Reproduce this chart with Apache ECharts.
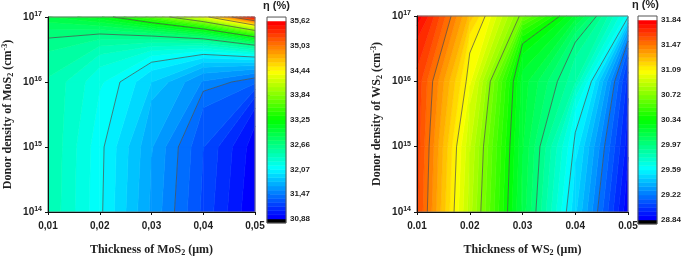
<!DOCTYPE html>
<html><head><meta charset="utf-8">
<script src="https://cdn.jsdelivr.net/npm/echarts@6/dist/echarts.min.js"></script>
<style>html,body{margin:0;padding:0;background:#fff}#c{width:685px;height:262px}</style>
</head><body><div id="c"></div>
<script>
// ---- data ----
const thickness = [0.01, 0.02, 0.03, 0.04, 0.05];          // µm
const donorDensity = [1e14, 1e15, 1e16, 1e17];             // cm^-3
const xTickLabelsMoS2 = ['0,01', '0,02', '0,03', '0,04', '0,05'];
const xTickLabelsWS2 = ['0.01', '0.02', '0.03', '0.04', '0.05'];
const yTickExponents = ['14', '15', '16', '17'];
// efficiency (%), rows = donor density, cols = thickness
const etaMoS2 = [
  [32.45, 32.09, 31.65, 31.25, 30.88],
  [32.46, 32.10, 31.68, 31.28, 30.92],
  [32.45, 32.19, 31.87, 31.56, 31.40],
  [32.95, 33.13, 33.60, 34.30, 35.62]
];
const etaWS2 = [
  [31.61, 30.87, 30.13, 29.48, 28.85],
  [31.63, 30.91, 30.16, 29.57, 28.93],
  [31.64, 31.05, 30.19, 29.85, 29.00],
  [31.84, 31.26, 30.68, 30.20, 29.62]
];
const cbarTicksMoS2 = ['30,88', '31,47', '32,07', '32,66', '33,25', '33,84', '34,44', '35,03', '35,62'];
const cbarTicksWS2 = ['28.84', '29.22', '29.59', '29.97', '30.34', '30.72', '31.09', '31.47', '31.84'];
const cbarRangeMoS2 = [30.88, 35.62];
const cbarRangeWS2 = [28.84, 31.84];

// ---- styling helpers ----
const MAJOR = 8, PER = 6, NB = MAJOR * PER;
const anchors = [[0,0,255],[0,255,255],[0,255,0],[255,255,0],[255,0,0]];
function rainbow(t) {
  const s = Math.max(0, Math.min(1, t)) * 4;
  const a = Math.min(3, Math.floor(s)), f = s - a;
  const c0 = anchors[a], c1 = anchors[a + 1];
  return 'rgb(' + [0,1,2].map(q => Math.round(c0[q] + (c1[q] - c0[q]) * f)).join(',') + ')';
}
// marching-squares style: points are found on the cell perimeter, joined by straight chords
function contourRender(Z, range, mode) {
  const step = (range[1] - range[0]) / NB;
  return function (params, api) {
    const j = api.value(2), i = api.value(3);
    const x0 = thickness[j], x1 = thickness[j + 1], y0 = donorDensity[i], y1 = donorDensity[i + 1];
    const toPx = p => api.coord([x0 + p[0] * (x1 - x0), y0 + p[1] * (y1 - y0)]);
    const ring = [[0, 0, Z[i][j]], [1, 0, Z[i][j + 1]], [1, 1, Z[i + 1][j + 1]], [0, 1, Z[i + 1][j]]];
    const edgePt = (A, B, L) => {
      const t = (L - A[2]) / (B[2] - A[2]);
      return [A[0] + t * (B[0] - A[0]), A[1] + t * (B[1] - A[1]), t];
    };
    const children = [];
    const zs = ring.map(p => p[2]);
    const zmin = Math.min(...zs), zmax = Math.max(...zs);
    if (mode === 'fill') {
      for (let k = 0; k < NB; k++) {
        const lo = k === 0 ? -Infinity : range[0] + k * step;
        const hi = k === NB - 1 ? Infinity : range[0] + (k + 1) * step;
        if (zmax < lo || zmin > hi) continue;
        const pts = [];
        for (let e = 0; e < 4; e++) {
          const A = ring[e], B = ring[(e + 1) % 4];
          if (A[2] >= lo && A[2] <= hi) pts.push(A);
          const cr = [];
          [lo, hi].forEach(L => {
            if (isFinite(L) && (A[2] - L) * (B[2] - L) < 0) cr.push(edgePt(A, B, L));
          });
          cr.sort((p, q) => p[2] - q[2]);
          cr.forEach(p => pts.push(p));
        }
        if (pts.length < 3) continue;
        const col = rainbow(k / (NB - 1));
        children.push({ type: 'polygon', shape: { points: pts.map(toPx) },
          style: { fill: col, stroke: col, lineWidth: 0.6 } });
      }
    } else {
      for (let m = 1; m < MAJOR; m++) {
        const L = range[0] + m * PER * step;
        const pts = [];
        for (let e = 0; e < 4; e++) {
          const A = ring[e], B = ring[(e + 1) % 4];
          if ((A[2] - L) * (B[2] - L) < 0) pts.push(edgePt(A, B, L));
        }
        for (let s = 0; s + 1 < pts.length; s += 2)
          children.push({ type: 'polyline', shape: { points: [toPx(pts[s]), toPx(pts[s + 1])] },
            style: { stroke: '#4a4a4a', lineWidth: 0.7, fill: null } });
      }
    }
    return { type: 'group', children };
  };
}
function cbarRender(params, api) {
  const k = api.value(1);
  if (k === NB + 1) {
    const p0 = api.coord([0, -0.16]), p1 = api.coord([1, MAJOR + 0.16]);
    return { type: 'rect', shape: { x: p0[0], y: p1[1], width: p1[0] - p0[0], height: p0[1] - p1[1] },
      style: { fill: null, stroke: '#555', lineWidth: 1 } };
  }
  let lo, hi, col;
  if (k < 0) { lo = -0.16; hi = 0; col = '#000'; }
  else if (k >= NB) { lo = MAJOR; hi = MAJOR + 0.16; col = '#fff'; }
  else { lo = k * MAJOR / NB; hi = (k + 1) * MAJOR / NB; col = rainbow(k / (NB - 1)); }
  const p0 = api.coord([0, lo]), p1 = api.coord([1, hi]);
  return { type: 'rect', shape: { x: p0[0], y: p1[1], width: p1[0] - p0[0], height: p0[1] - p1[1] },
    style: { fill: col, stroke: col, lineWidth: 0.5 } };
}

const cells = [];
for (let i = 0; i < donorDensity.length - 1; i++)
  for (let j = 0; j < thickness.length - 1; j++) cells.push([thickness[j], donorDensity[i], j, i]);
const cbarItems = [];
for (let k = -1; k <= NB + 1; k++) cbarItems.push([0.5, k]);

const tickFont = { fontFamily: 'Liberation Sans', fontWeight: 'bold', color: '#222' };
const titleStyle = {
  fontFamily: 'Liberation Serif', fontWeight: 'bold', fontSize: 12, color: '#222', lineHeight: 14,
  rich: {
    sub: { fontFamily: 'Liberation Serif', fontWeight: 'bold', fontSize: 8, lineHeight: 6, verticalAlign: 'bottom', color: '#222' },
    sup: { fontFamily: 'Liberation Serif', fontWeight: 'bold', fontSize: 8, lineHeight: 6, verticalAlign: 'top', color: '#222' }
  }
};
function xAxisCfg(grid, labels, name) {
  return { gridIndex: grid, type: 'value', min: 0.01, max: 0.05, interval: 0.01, z: 8,
    axisLine: { show: true, onZero: false, lineStyle: { color: '#111', width: 1 } },
    axisTick: { show: true, length: 3, lineStyle: { color: '#111' } },
    splitLine: { show: false },
    axisLabel: { ...tickFont, fontSize: 10, margin: 9, showMinLabel: true, showMaxLabel: true,
      formatter: v => labels[thickness.findIndex(t => Math.abs(t - v) < 1e-9)] },
    name, nameLocation: 'middle', nameGap: 31, nameTextStyle: titleStyle };
}
function yAxisCfg(grid, name) {
  return { gridIndex: grid, type: 'log', logBase: 10, min: 1e14, max: 1e17, z: 8,
    axisLine: { show: true, onZero: false, lineStyle: { color: '#111', width: 1 } },
    axisTick: { show: true, length: 3, lineStyle: { color: '#111' } },
    minorTick: { show: false }, splitLine: { show: false },
    axisLabel: { margin: 6, showMinLabel: true, showMaxLabel: true,
      formatter: v => '{b|10}{s|' + yTickExponents[donorDensity.findIndex(d => Math.abs(Math.log10(d) - Math.log10(v)) < 1e-6)] + '}',
      rich: { b: { ...tickFont, fontSize: 10, lineHeight: 12 },
              s: { ...tickFont, fontSize: 7, lineHeight: 6, verticalAlign: 'top' } } },
    name, nameLocation: 'middle', nameGap: 33, nameRotate: 90, nameTextStyle: titleStyle };
}
function cbarY(grid, labels) {
  return { gridIndex: grid, type: 'value', min: 0, max: MAJOR, interval: 1, position: 'right',
    axisLine: { show: false }, splitLine: { show: false },
    axisTick: { show: true, length: 3, lineStyle: { color: '#333' } },
    axisLabel: { ...tickFont, fontSize: 8, margin: 4, showMinLabel: true, showMaxLabel: true,
      formatter: v => labels[Math.round(v)] } };
}

const option = {
  animation: false,
  backgroundColor: '#fff',
  title: [
    { text: 'η (%)', left: 263, top: 0, padding: 0, textStyle: { fontFamily: 'Liberation Sans', fontWeight: 'bold', fontSize: 11, color: '#222' } },
    { text: 'η (%)', left: 632, top: -1, padding: 0, textStyle: { fontFamily: 'Liberation Sans', fontWeight: 'bold', fontSize: 11, color: '#222' } }
  ],
  grid: [
    { left: 48, top: 17, width: 207, height: 206, show: true, borderColor: '#777', borderWidth: 1, z: 6, backgroundColor: 'transparent' },
    { left: 417, top: 16, width: 211, height: 208, show: true, borderColor: '#777', borderWidth: 1, z: 6, backgroundColor: 'transparent' },
    { left: 267, top: 21, width: 19, height: 198 },
    { left: 638, top: 20, width: 19, height: 200 }
  ],
  xAxis: [
    xAxisCfg(0, xTickLabelsMoS2, 'Thickness of MoS{sub|2} (μm)'),
    xAxisCfg(1, xTickLabelsWS2, 'Thickness of WS{sub|2} (μm)'),
    { gridIndex: 2, type: 'value', min: 0, max: 1, show: false },
    { gridIndex: 3, type: 'value', min: 0, max: 1, show: false }
  ],
  yAxis: [
    yAxisCfg(0, 'Donor density of MoS{sub|2} (cm{sup|-3})'),
    yAxisCfg(1, 'Donor density of WS{sub|2} (cm{sup|-3})'),
    cbarY(2, cbarTicksMoS2),
    cbarY(3, cbarTicksWS2)
  ],
  series: [
    { type: 'custom', xAxisIndex: 0, yAxisIndex: 0, silent: true, z: 2, encode: { x: 0, y: 1 }, data: cells,
      renderItem: contourRender(etaMoS2, cbarRangeMoS2, 'fill') },
    { type: 'custom', xAxisIndex: 0, yAxisIndex: 0, silent: true, z: 3, encode: { x: 0, y: 1 }, data: cells,
      renderItem: contourRender(etaMoS2, cbarRangeMoS2, 'line') },
    { type: 'custom', xAxisIndex: 1, yAxisIndex: 1, silent: true, z: 2, encode: { x: 0, y: 1 }, data: cells,
      renderItem: contourRender(etaWS2, cbarRangeWS2, 'fill') },
    { type: 'custom', xAxisIndex: 1, yAxisIndex: 1, silent: true, z: 3, encode: { x: 0, y: 1 }, data: cells,
      renderItem: contourRender(etaWS2, cbarRangeWS2, 'line') },
    { type: 'custom', xAxisIndex: 2, yAxisIndex: 2, silent: true, encode: { x: 0, y: 1 }, data: cbarItems, renderItem: cbarRender },
    { type: 'custom', xAxisIndex: 3, yAxisIndex: 3, silent: true, encode: { x: 0, y: 1 }, data: cbarItems, renderItem: cbarRender }
  ]
};
const chart = echarts.init(document.getElementById('c'), null, { renderer: 'canvas' });
chart.setOption(option);
</script>
</body></html>
